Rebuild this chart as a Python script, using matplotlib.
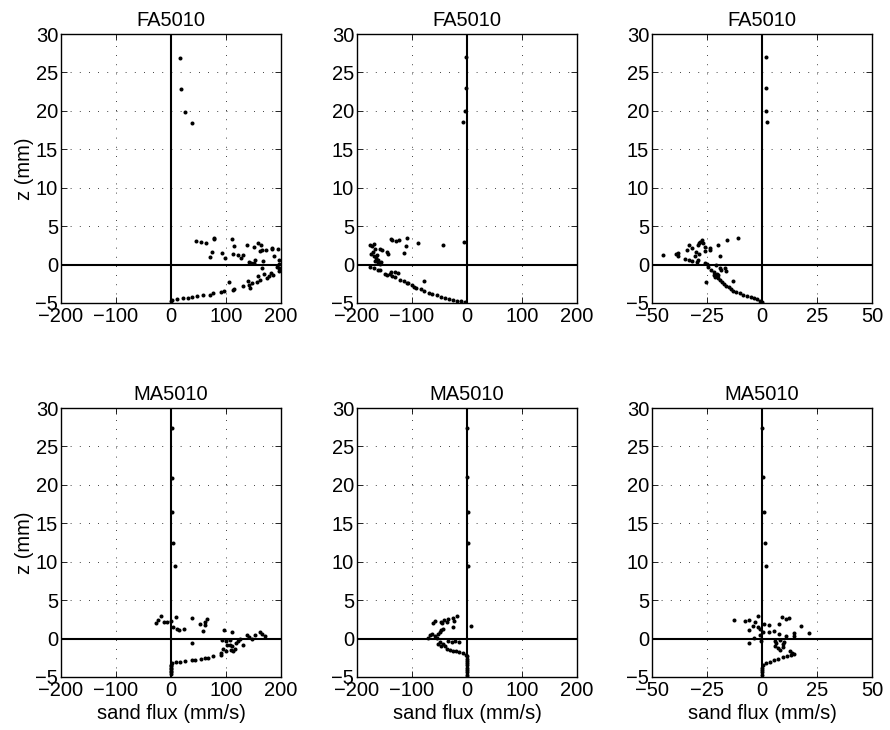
import numpy as np
import matplotlib.pyplot as plt

plt.rcParams['font.family'] = ['Liberation Sans', 'DejaVu Sans']
plt.rcParams['font.size'] = 14.5

# FA5010, panel 1 (sand flux, mm/s ; z, mm)
fa1_x = [16, 18, 25, 38,
         45, 54, 63, 78, 79, 74, 70, 93, 98, 110, 115, 112, 122, 127, 131, 139, 150, 159, 163,
         161, 165, 152, 142, 146, 150, 168, 172, 183, 184, 194, 187, 196, 196,
         193, 197, 165, 169, 182, 186, 179, 174, 196, 158, 161, 157, 140, 148, 141, 144, 131,
         105, 114, 113, 96, 91, 76, 71, 59, 48, 39, 31, 21, 10, 1, 0.5]
fa1_z = [26.9, 22.9, 19.9, 18.4,
         3.07, 2.94, 2.85, 3.28, 3.46, 1.6, 1.0, 1.5, 0.9, 3.3, 2.4, 1.4, 1.3, 0.86, 1.2, 2.5, 2.3, 2.8, 2.6,
         1.73, 1.86, 0.65, 0.39, 0.26, 0.2, 0.43, 1.94, 2.03, 2.16, 2.0, 1.08, 0.56, 0.1,
         -0.3, -0.5, -0.43, -1.17, -1.1, -1.3, -1.5, -1.8, -0.8, -1.47, -2.0, -2.3, -2.16, -2.46, -2.6, -3.0, -2.8,
         -2.3, -3.2, -3.3, -3.5, -3.6, -3.76, -3.9, -4.0, -4.15, -4.2, -4.3, -4.4, -4.5, -4.6, -4.8]

# FA5010, panel 2
fa2_x = [-1, -2, -4, -7,
         -5.5, -43.6, -88.5, -110, -111, -114, -124, -128.5, -136, -138, -155, -146, -143.6, -159,
         -176, -170, -173, -167, -171.5, -175, -163.6, -169.7, -165.5, -161, -156, -162, -159, -167,
         -176, -170, -161, -158, -150, -145, -140.6, -138, -131.5, -126, -136, -131, -122, -115,
         -110, -107, -77.6, -100.6, -97, -92.7, -83.6, -78.8, -70, -63, -55, -47, -40, -32.7,
         -25.5, -18, -11, -3.6]
fa2_z = [27, 23, 20, 18.5,
         2.9, 2.5, 2.8, 3.46, 2.4, 1.5, 3.2, 3.07, 3.2, 3.3, 1.86, 1.64, 1.34, 2.0,
         2.6, 2.7, 2.4, 2.07, 1.64, 1.43, 1.3, 1.08, 0.9, 0.65, 0.39, 0.2, 0.1, 0.47,
         -0.3, -0.43, -0.65, -0.73, -1.17, -1.3, -1.2, -0.95, -0.95, -1.04, -1.5, -1.6, -1.95, -2.16,
         -2.46, -2.46, -2.1, -2.64, -2.9, -3.1, -3.24, -3.5, -3.67, -3.85, -4.0, -4.2, -4.36, -4.5,
         -4.6, -4.7, -4.8, -4.9]

# FA5010, panel 3
fa3_x = [2, 2, 2, 2.3,
         -10.9, -15.9, -19.8, -19.2, -27.4, -28, -28.5, -26.7, -25.9, -29.2, -33, -31.8, -34,
         -23.6, -23.8, -25.8, -30, -28.6, -30.5, -38, -39, -38.3, -44.8, -35, -33, -31.7, -29.7,
         -28.9, -26, -25, -21, -24.4, -23, -18.9, -17, -16.4, -18.8, -21.7, -20.6, -22, -21.4,
         -20, -19.8, -25.3, -13.2, -19, -18.3, -17.4, -16.5, -15.2, -14.2, -13, -11.8, -10,
         -8.6, -7, -5.2, -3.6, -2.3, -0.9, -0.15]
fa3_z = [27, 23, 20, 18.5,
         3.46, 3.24, 2.5, 1.12, 3.24, 3.0, 2.8, 2.85, 2.3, 2.5, 2.6, 2.2, 1.94,
         2.2, 1.86, 1.73, 1.64, 1.43, 1.08, 1.5, 1.34, 1.08, 1.3, 0.78, 0.56, 0.43, 0.3,
         0.65, 0.26, 0.04, 0.0, -0.3, -0.73, -0.43, -0.5, -0.8, -0.73, -0.95, -1.17, -1.38, -1.6,
         -1.38, -1.8, -2.25, -2.1, -2.0, -2.3, -2.55, -2.77, -2.98, -3.2, -3.4, -3.6, -3.7,
         -3.9, -4.1, -4.2, -4.36, -4.5, -4.75, -4.9]

# MA5010, panel 1
ma1_x = [1, 1, 2, 3, 8,
         -26.7, -23, -17.6, -12.7, -6.7, 0, 9, 4.2, 10, 14.5, 24, 37.6, 52, 65, 62.4, 61, 57.6,
         38.8, 97, 111.5, 92.7, 100, 107, 125.5, 121, 117.6, 111.5, 107, 101, 95, 100, 108.5,
         113, 116, 130, 138, 141, 146.7, 153, 162, 165, 171,
         91, 91, 77, 68, 62, 54, 43.6, 38, 25.5, 17, 8.5, 1.2,
         0, 0, 0, 0, 0, 0, 0]
ma1_z = [27.4, 20.9, 16.5, 12.4, 9.4,
         2.0, 2.47, 2.9, 2.16, 2.2, 2.25, 2.77, 1.5, 1.25, 1.08, 1.3, 2.68, 1.9, 2.6, 1.73, 2.16, 0.95,
         -0.6, 1.08, 0.87, -0.13, -0.26, -0.13, -0.04, -0.35, -0.56, -1.0, -0.78, -0.9, -1.34, -1.56, -1.43,
         -1.65, -1.3, -0.9, 0.43, 0.17, -0.04, 0.52, 0.82, 0.65, 0.3,
         -1.86, -2.08, -2.3, -2.5, -2.55, -2.64, -2.73, -2.77, -2.9, -3.0, -3.07, -3.16,
         -3.4, -3.6, -3.8, -4.0, -4.2, -4.4, -4.6]

# MA5010, panel 2
ma2_x = [0.5, 0.5, 1, 1, 1.5,
         6.7, -17.6, -25.5, -23, -25.5, -34, -37, -41, -45, -47, -58, -62.4, -43, -47, -50, -53,
         -63, -66.7, -58, -71.5, -55, -50, -52, -47, -43, -34, -28, -22, -14.5, -40, -37, -31,
         -26, -20, -14, -8, -1.8,
         0, 0, 0, 0, 0, 0, 0, 0, 0, 0]
ma2_z = [27.4, 21, 16.5, 12.5, 9.5,
         1.7, 2.94, 2.68, 2.25, 1.5, 2.55, 2.16, 2.38, 2.03, 2.2, 2.33, 2.03, 1.3, 1.08, 0.87, 0.65,
         0.65, 0.52, 0.39, 0.09, 0.09, -0.48, -0.7, -1.0, -0.7, -0.26, -0.43, -0.35, -0.48, -1.0, -1.3, -1.43,
         -1.56, -1.65, -1.73, -1.86, -2.08,
         -2.3, -2.6, -2.9, -3.2, -3.5, -3.8, -4.1, -4.4, -4.7, -4.95]

# MA5010, panel 3
ma3_x = [0, 0.5, 1, 1.4, 1.8,
         -12.7, -7.7, -5.8, -3.2, -1.8, -4.2, -6, -2, -0.8, 0.9, 3.3, 0.3, -0.8, -0.5, -5.8, -3.5,
         3, 5.6, 7.7, 8.9, 10.8, 12.4, 7.7, 5.9, 6.4, 8.3, 10.8, 14.7, 14.7, 17.6, 21.5, 10.2,
         9.7, 5.9, 7.1, 8.3, 9.7, 12.7, 13.5, 14.7, 13, 11.2, 9.4, 7.4, 5.5, 3.6, 1.8, 0.3,
         0, 0, 0, 0]
ma3_z = [27.4, 21, 16.5, 12.5, 9.5,
         2.38, 2.25, 2.47, 2.1, 2.9, 1.7, 1.17, 1.47, 1.25, 1.95, 1.77, 0.82, 0.52, -0.35, -0.56, 0.09,
         0.87, 1.04, 1.9, 2.8, 2.6, 2.68, 0.6, -0.26, -0.56, -0.13, 0.3, 0.74, 0.3, 1.6, 0.7, -0.43,
         -0.7, -1.0, -1.2, -1.43, -1.08, -1.65, -1.86, -1.95, -2.08, -2.3, -2.4, -2.6, -2.8, -3.0, -3.2, -3.5,
         -3.8, -4.1, -4.4, -4.7]

panels = [
    ('FA5010', fa1_x, fa1_z, 200, [-200, -100, 0, 100, 200]),
    ('FA5010', fa2_x, fa2_z, 200, [-200, -100, 0, 100, 200]),
    ('FA5010', fa3_x, fa3_z, 50, [-50, -25, 0, 25, 50]),
    ('MA5010', ma1_x, ma1_z, 200, [-200, -100, 0, 100, 200]),
    ('MA5010', ma2_x, ma2_z, 200, [-200, -100, 0, 100, 200]),
    ('MA5010', ma3_x, ma3_z, 50, [-50, -25, 0, 25, 50]),
]

W, H = 890, 730
fig = plt.figure(figsize=(W / 100, H / 100), dpi=100)

lefts = [61, 357, 652]
tops = [34, 408]

for i, (title, x, z, lim, xt) in enumerate(panels):
    r, c = divmod(i, 3)
    ax = fig.add_axes([lefts[c] / W, 1 - (tops[r] + 269) / H, 220 / W, 269 / H])
    ax.axhline(0, color='k', lw=1.5, zorder=2)
    ax.axvline(0, color='k', lw=1.5, zorder=2)
    ax.plot(x, z, 'o', color='k', ms=2.9, mew=0, zorder=3)
    ax.set_xlim(-lim, lim)
    ax.set_ylim(-5, 30)
    ax.set_xticks(xt)
    ax.set_yticks(range(-5, 31, 5))
    ax.grid(True, color='k', ls=(0, (1, 10)), lw=0.6)
    ax.tick_params(direction='in', top=True, right=True, length=4, width=0.6, pad=2)
    ax.tick_params(axis='x', pad=3)
    for s in ax.spines.values():
        s.set_linewidth(1.0)
    ax.set_title(title, fontsize=14.5, pad=6)
    if c == 0:
        ax.set_ylabel('z (mm)', labelpad=1)
    if r == 1:
        ax.set_xlabel('sand flux (mm/s)', labelpad=3)

fig.savefig('out.png', dpi=100)
